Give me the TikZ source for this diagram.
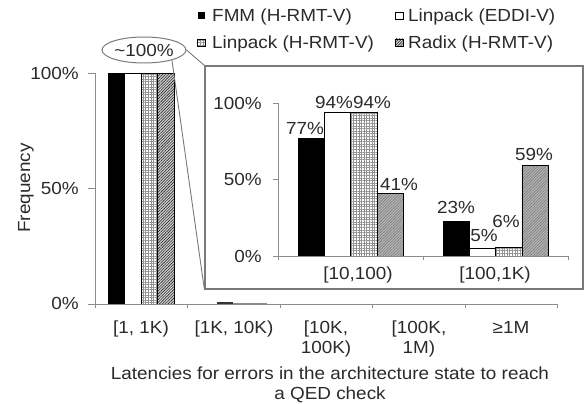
\documentclass[tikz,border=0pt]{standalone}
\usepackage{fontspec}
\setmainfont{Liberation Sans}[FakeStretch=1.08]
\usetikzlibrary{patterns.meta,shapes.geometric}
\definecolor{txt}{HTML}{2A2A2A}
\definecolor{axisc}{HTML}{8C8C8C}
\definecolor{framec}{HTML}{7A7A7A}

\begin{document}
\begin{tikzpicture}[x=1pt,y=-1pt,
  lbl/.style={text=txt,font=\fontsize{17.5}{20}\selectfont,inner sep=0pt},
  ax/.style={draw=axisc,line width=0.9pt},
  barblack/.style={fill=black,draw=black,line width=0.5pt},
  barwhite/.style={fill=white,draw=black,line width=0.5pt},
  bargrid/.style={draw=black,line width=0.5pt,preaction={fill=white},
    pattern={Hatch[distance=2.6pt,line width=0.35pt]},pattern color=gray!85},
  barhatch/.style={draw=black,line width=0.5pt,preaction={fill=gray!60},
    pattern={Lines[angle=45,distance=2pt,line width=0.45pt]},pattern color=black!55},
  barhatchdark/.style={draw=black,line width=0.5pt,preaction={fill=gray!35},
    pattern={Lines[angle=45,distance=2pt,line width=0.6pt]},pattern color=black!85},
]
\useasboundingbox (0,0) rectangle (586,404);

% ---------- legend ----------
\fill[black] (197.5,12) rectangle (205,19.5);
\node[lbl,anchor=base west] (lg1) at (212,21.5) {FMM (H-RMT-V)};
\draw[black,line width=0.5pt,fill=white] (395.5,12) rectangle (403,19.5);
\node[lbl,anchor=base west] (lg2) at (408,21.5) {Linpack (EDDI-V)};
\filldraw[bargrid] (197.5,39) rectangle (205,46.5);
\node[lbl,anchor=base west] (lg3) at (212,48.5) {Linpack (H-RMT-V)};
\filldraw[barhatchdark] (395.5,39) rectangle (403,46.5);
\node[lbl,anchor=base west] (lg4) at (408,48.5) {Radix (H-RMT-V)};

% ---------- main chart: bars ----------
\filldraw[barblack] (108,73) rectangle (124.5,304);
\filldraw[barwhite] (124.5,73) rectangle (141,304);
\filldraw[bargrid] (141,73) rectangle (157.5,304);
\filldraw[barhatchdark] (157.5,73) rectangle (174,304);
% tiny values in [1K, 10K)
\fill[black!80] (217,301.6) rectangle (233,304);
\draw[black!45,line width=0.8pt] (233,303.2) -- (267,303.2);

% ---------- main chart: axes ----------
\draw[ax] (95,73) -- (95,304);
\foreach \yy in {73,188.5,304} \draw[ax] (88,\yy) -- (95,\yy);
\draw[ax] (95,304) -- (557.5,304);
\foreach \xx in {95,187.5,280,372.5,465,557.5} \draw[ax] (\xx,304) -- (\xx,308);

\node[lbl,anchor=base east] (y100) at (79,80) {100\%};
\node[lbl,anchor=base east] (y50) at (79,194.5) {50\%};
\node[lbl,anchor=base east] (y0) at (79,309) {0\%};
\node[lbl,anchor=base,rotate=90] (ylab) at (30,188) {Frequency};

% category labels (base anchor of a two-line node is its last line)
\node[lbl,anchor=base] (c1) at (141,333) {[1, 1K)};
\node[lbl,anchor=base] (c2) at (234,333) {[1K, 10K)};
\node[lbl,anchor=base,align=center] (c3) at (326,353) {[10K,\\100K)};
\node[lbl,anchor=base,align=center] (c4) at (419,353) {[100K,\\1M)};
\node[lbl,anchor=base] (c5) at (511,333) {≥1M};

\node[lbl,anchor=base,align=center] (xlab) at (330,399)
  {Latencies for errors in the architecture state to reach\\a QED check};

% ---------- callout ----------
\node[lbl,ellipse,draw=framec,line width=1pt,minimum width=78pt,minimum height=26pt,inner sep=0pt]
  (ell) at (144,50) {\char"007E 100\%};
\node[draw=framec,line width=1.2pt,minimum width=378pt,minimum height=223pt,inner sep=0pt]
  (inset) at (394,177.5) {};
\draw[framec,line width=0.9pt] (ell.east) -- (inset.north west);
\draw[framec,line width=0.9pt] (ell.-20) -- (inset.south west);

% ---------- inset: bars ----------
\filldraw[barblack] (298,138.2) rectangle (324.25,256);
\filldraw[barwhite] (324.25,112.2) rectangle (350.5,256);
\filldraw[bargrid] (350.5,112.2) rectangle (376.75,256);
\filldraw[barhatch] (376.75,193.3) rectangle (403,256);
\filldraw[barblack] (443,220.8) rectangle (469.25,256);
\filldraw[barwhite] (469.25,248.4) rectangle (495.5,256);
\filldraw[bargrid] (495.5,246.8) rectangle (521.75,256);
\filldraw[barhatch] (521.75,165.7) rectangle (548,256);

% ---------- inset: axes ----------
\draw[ax] (278,103) -- (278,256);
\foreach \yy in {103,179.5,256} \draw[ax] (273,\yy) -- (278,\yy);
\draw[ax] (278,256) -- (568,256);
\foreach \xx in {278,423,568} \draw[ax] (\xx,256) -- (\xx,260);

\node[lbl,anchor=base east] (iy100) at (262,109) {100\%};
\node[lbl,anchor=base east] (iy50) at (262,185.5) {50\%};
\node[lbl,anchor=base east] (iy0) at (262,262) {0\%};
\node[lbl,anchor=base] (ic1) at (358,279) {[10,100)};
\node[lbl,anchor=base] (ic2) at (495,279) {[100,1K)};

% value labels
\node[lbl,anchor=base] (v1) at (305,134) {77\%};
\node[lbl,anchor=base] (v2) at (334,108) {94\%};
\node[lbl,anchor=base] (v3) at (372,108) {94\%};
\node[lbl,anchor=base] (v4) at (399,190) {41\%};
\node[lbl,anchor=base] (v5) at (456,213) {23\%};
\node[lbl,anchor=base] (v6) at (484,241) {5\%};
\node[lbl,anchor=base] (v7) at (506,227) {6\%};
\node[lbl,anchor=base] (v8) at (534,160) {59\%};
\end{tikzpicture}
\end{document}
